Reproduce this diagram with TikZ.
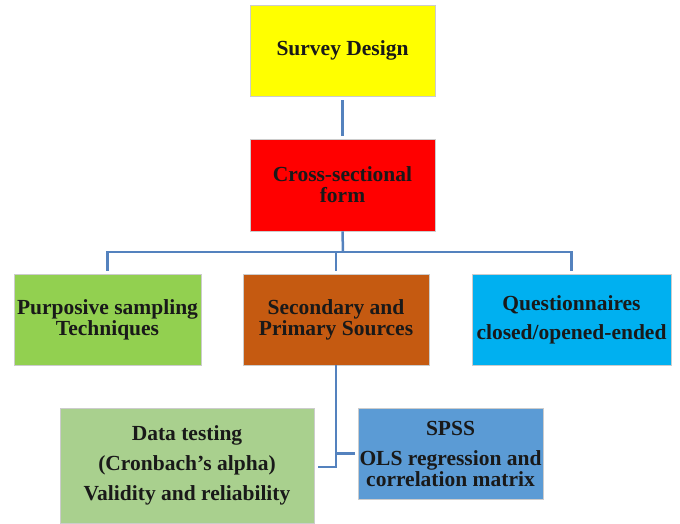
\documentclass[tikz,border=0pt]{standalone}
\usepackage{fontspec}
\setmainfont{Liberation Serif}
\definecolor{cyel}{RGB}{255,255,0}
\definecolor{cred}{RGB}{255,0,0}
\definecolor{cgreen}{RGB}{146,208,80}
\definecolor{corange}{RGB}{197,90,17}
\definecolor{ccyan}{RGB}{0,176,240}
\definecolor{clgreen}{RGB}{169,208,142}
\definecolor{cblue}{RGB}{91,155,213}
\definecolor{cline}{RGB}{84,130,190}
\tikzset{
  box/.style={rectangle, draw=white!80!black, line width=0.6pt, align=center, inner sep=0pt,
    font=\bfseries\fontsize{21.5}{21}\selectfont, text=black!90},
  conn/.style={draw=cline, line width=2.5pt}
}
\begin{document}
\begin{tikzpicture}[x=1pt,y=-1pt]
\useasboundingbox (0,0) rectangle (680,524);
\node[box, fill=cyel, minimum width=185pt, minimum height=91pt] (sd) at (342.5,50.5) {Survey Design};
\node[box, fill=cred, minimum width=185pt, minimum height=92pt] (cs) at (342.5,185) {Cross-sectional\\form};
\node[box, fill=cgreen, minimum width=187pt, minimum height=91pt] (pu) at (107.5,319.5) {Purposive sampling\\Techniques};
\node[box, fill=corange, minimum width=186pt, minimum height=91pt] (se) at (336,319.5) {Secondary and\\Primary Sources};
\node[box, fill=ccyan, minimum width=199pt, minimum height=91pt] (qu) at (571.5,319.5) {Questionnaires\\[8pt]closed/opened-ended};
\node[box, fill=clgreen, minimum width=254pt, minimum height=115pt] (dt) at (187,465.5) {Data testing\\[9pt](Cronbach’s alpha)\\[9pt]Validity and reliability};
\node[box, fill=cblue, minimum width=185pt, minimum height=91pt] (sp) at (450.5,453.5) {SPSS\\[9pt]OLS regression and\\correlation matrix};
\coordinate (bus) at (343,252);
\coordinate (j1) at (336,467);
\draw[conn, shorten <=4pt, shorten >=3pt] (sd.south) -- (cs.north);
\draw[conn] (cs.south) -- (bus);
\draw[conn, shorten <=3pt, shorten >=3pt] (pu.north) -- (pu.north |- bus) -- (qu.north |- bus) -- (qu.north);
\draw[conn, shorten >=3pt] (se.north |- bus) -- (se.north);
\draw[conn, shorten >=4pt] (se.south) -- (j1) -- (dt.east |- j1);
\draw[conn, shorten >=3pt] (se.south |- sp.west) -- (sp.west);
\end{tikzpicture}
\end{document}
